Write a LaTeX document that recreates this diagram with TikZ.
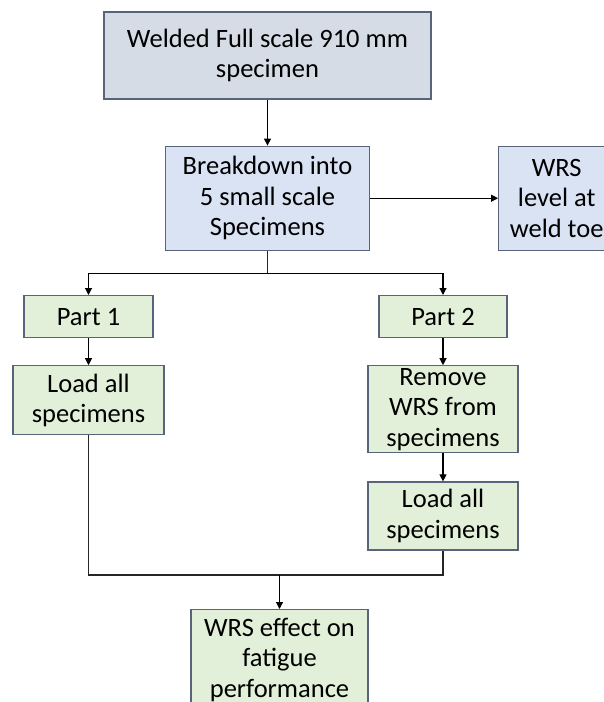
\documentclass[tikz,border=0pt]{standalone}
\usepackage{fontspec}
\setmainfont{Carlito}
\usepackage{xcolor}
\usepackage{tikz}
\usetikzlibrary{arrows.meta,positioning}
\definecolor{slategray}{RGB}{214,220,229}
\definecolor{paleblue}{RGB}{218,227,243}
\definecolor{palegreen}{RGB}{226,240,217}
\definecolor{edgegray}{RGB}{88,100,122}
\tikzset{
  stage/.style={rectangle, draw=edgegray, line width=1.2pt, align=center, inner sep=0pt, font=\fontsize{26.5}{30.5}\selectfont},
  mainbox/.style={stage, fill=slategray},
  bluebox/.style={stage, fill=paleblue},
  greenbox/.style={stage, fill=palegreen},
  arrow/.style={-{Triangle[length=7pt,width=7pt]}, line width=1.1pt, draw=black},
  link/.style={line width=1.1pt, draw=black!85}
}
\begin{document}
\begin{tikzpicture}[x=1pt, y=-1pt]
\useasboundingbox (0,0) rectangle (603,702);
\node[mainbox, minimum width=327pt, minimum height=87pt] (welded) at (267.5,55.5) {Welded Full scale 910 mm\\specimen};
\node[bluebox, minimum width=204pt, minimum height=104pt, below=46pt of welded] (breakdown) {Breakdown into\\5 small scale\\Specimens};
\node[bluebox, minimum width=116pt, minimum height=104pt, right=128pt of breakdown] (wrslevel) {WRS\\level at\\weld toe};
\node[greenbox, minimum width=129pt, minimum height=42pt, anchor=north] (part1) at (88.5,295) {Part 1};
\node[greenbox, minimum width=128pt, minimum height=42pt, anchor=north] (part2) at (443,295) {Part 2};
\node[greenbox, minimum width=151pt, minimum height=69pt, below=27pt of part1] (loadA) {Load all\\specimens};
\node[greenbox, minimum width=150pt, minimum height=87pt, below=27pt of part2] (remove) {Remove\\WRS from\\specimens};
\node[greenbox, minimum width=150pt, minimum height=68pt, below=28pt of remove] (loadB) {Load all\\specimens};
\node[greenbox, minimum width=177pt, minimum height=100pt, anchor=north] (effect) at (279.5,609) {WRS effect on\\fatigue\\performance};
\coordinate[below=23pt of breakdown] (split);
\coordinate[above=34pt of effect] (merge);
\draw[arrow] (welded) -- (breakdown);
\draw[arrow] (breakdown) -- (wrslevel);
\draw[link] (breakdown) -- (split);
\draw[arrow] (split) -| (part1); \draw[arrow] (split) -| (part2);
\draw[arrow] (part1) -- (loadA); \draw[arrow] (part2) -- (remove); \draw[arrow] (remove) -- (loadB);
\draw[link] (loadA) |- (merge); \draw[link] (loadB) |- (merge);
\draw[arrow] (merge) -- (effect);
\end{tikzpicture}
\end{document}
